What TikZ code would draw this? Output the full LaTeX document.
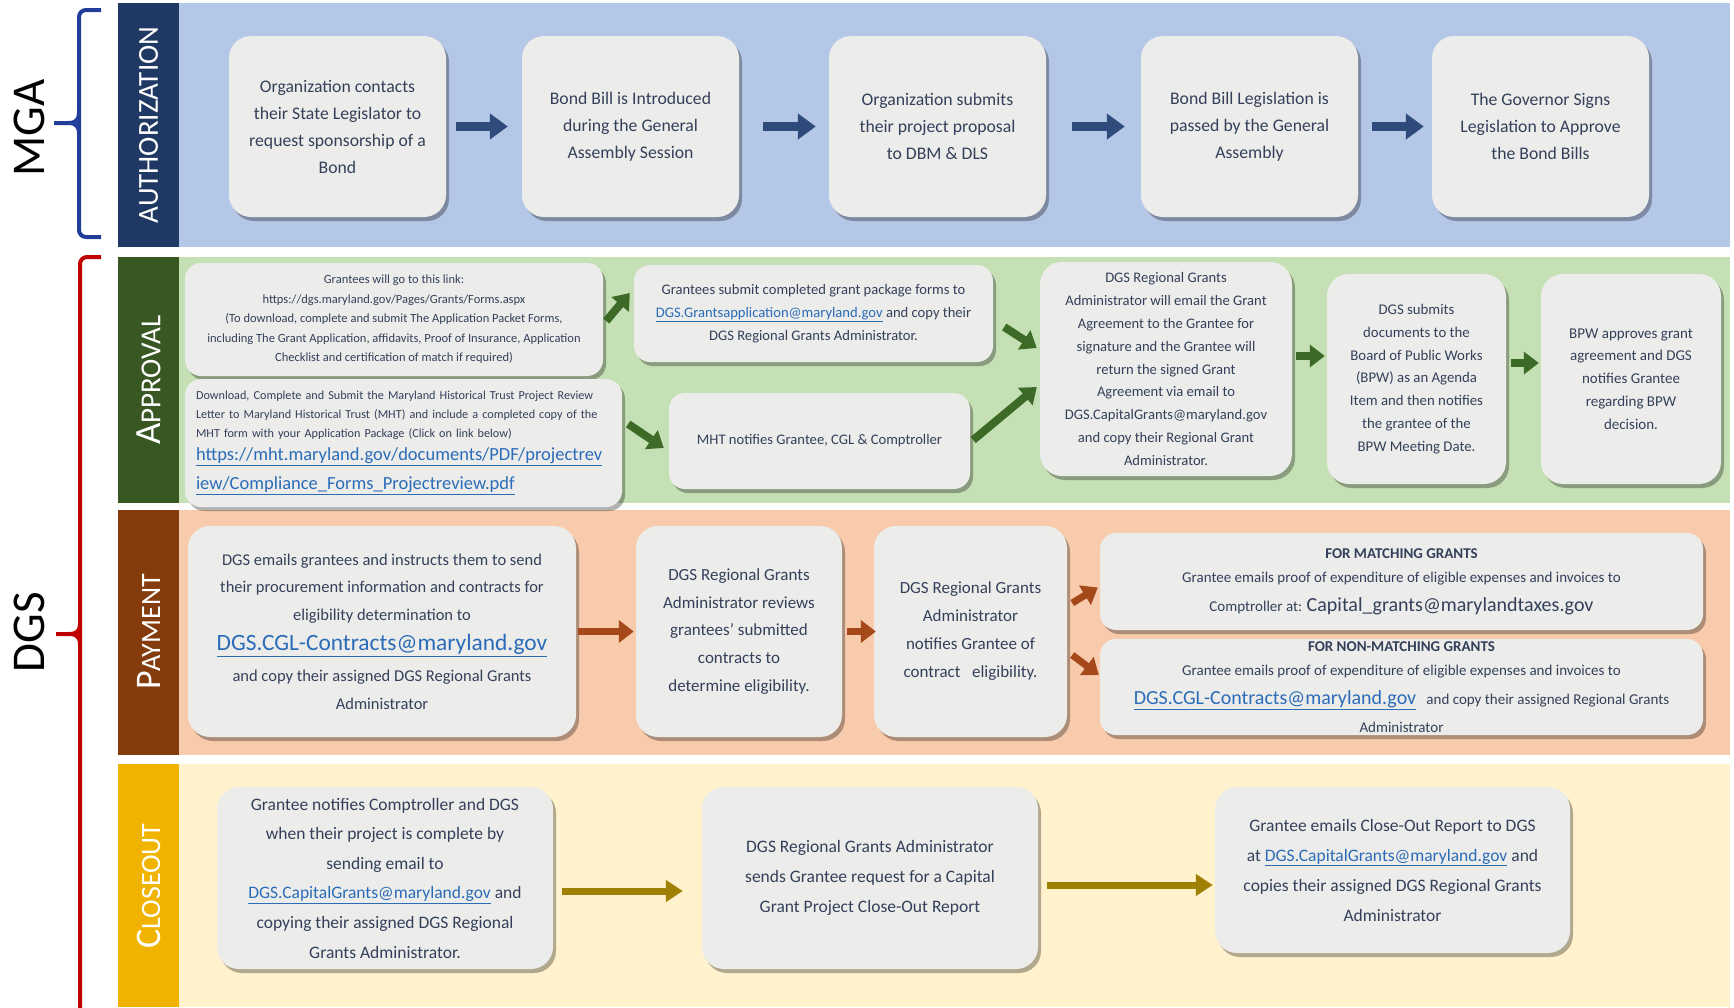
\documentclass[tikz,border=0pt]{standalone}
\usepackage{fontspec}
\setmainfont{Carlito}
\usetikzlibrary{arrows.meta,shadows,calc}
\definecolor{authD}{HTML}{203864}
\definecolor{authL}{HTML}{B4C7E7}
\definecolor{apprD}{HTML}{385723}
\definecolor{apprL}{HTML}{C5E0B4}
\definecolor{payD}{HTML}{843C0C}
\definecolor{payL}{HTML}{F8CBAD}
\definecolor{cloD}{HTML}{F0B400}
\definecolor{cloL}{HTML}{FFF2CC}
\definecolor{boxF}{HTML}{ECECEB}
\definecolor{txt}{HTML}{34405A}
\definecolor{lnk}{HTML}{2A6CB8}
\definecolor{arA}{HTML}{2F4B7C}
\definecolor{arG}{HTML}{3D6A27}
\definecolor{arP}{HTML}{A5491B}
\definecolor{arC}{HTML}{A07F05}
\definecolor{mgaC}{HTML}{1F3D99}
\definecolor{dgsC}{HTML}{C00000}
\newcommand{\lk}[1]{\textcolor{lnk}{\underline{#1}}}
\newcommand{\fs}[2]{\fontsize{#1}{#2}\selectfont}
\begin{document}
\begin{tikzpicture}[x=1pt,y=-1pt,
  box/.style={fill=boxF, rounded corners=22pt, text=txt, align=center, inner sep=4pt,
    drop shadow={shadow xshift=3pt,shadow yshift=-4pt,opacity=0.3,fill=black}},
  sbox/.style={box, rounded corners=16pt},
  band/.style={rotate=90, text=white},
  aar/.style={draw=arA, line width=9pt, -{Triangle[length=18pt,width=25pt]}},
  gar/.style={draw=arG, line width=8pt, -{Triangle[length=15pt,width=22pt]}},
  par/.style={draw=arP, line width=7pt, -{Triangle[length=15pt,width=22pt]}},
  car/.style={draw=arC, line width=7pt, -{Triangle[length=17pt,width=21pt]}},
  brace/.style={line width=4pt}
]
\useasboundingbox (0,0) rectangle (1734,1007);
% bands
\fill[authD] (118,3) rectangle (179,247);
\fill[authL] (179,3) rectangle (1730,247);
\fill[apprD] (118,257) rectangle (179,503);
\fill[apprL] (179,257) rectangle (1730,503);
\fill[payD] (118,510) rectangle (179,755);
\fill[payL] (179,510) rectangle (1730,755);
\fill[cloD] (118,764) rectangle (179,1007);
\fill[cloL] (179,764) rectangle (1730,1007);
% band labels
\node[band, font=\fs{29}{29}] (lauth) at (148.5,125) {AUTHORIZATION};
\node[band] (lappr) at (148.5,380) {{\fs{37}{37}A}{\fs{29}{29}PPROVAL}};
\node[band] (lpay) at (148.5,632) {{\fs{36}{36}P}{\fs{28}{28}AYMENT}};
\node[band] (lclo) at (148.5,886) {{\fs{36}{36}C}{\fs{28}{28}LOSEOUT}};
% braces
\draw[brace, mgaC, rounded corners=7pt] (101,10) -- (79,10) -- (79,237) -- (101,237);
\draw[brace, mgaC] (54,123) -- (68,123) .. controls (76,123) and (79,120) .. (79,112);
\draw[brace, mgaC] (68,123) .. controls (76,123) and (79,126) .. (79,134);
\node[rotate=90, font=\fs{47}{47}] (mga) at (29,128) {MGA};
\draw[brace, dgsC, rounded corners=7pt] (101,257) -- (80,257) -- (80,1012);
\draw[brace, dgsC] (56,634) -- (69,634) .. controls (77,634) and (80,631) .. (80,623);
\draw[brace, dgsC] (69,634) .. controls (77,634) and (80,637) .. (80,645);
\node[rotate=90, font=\fs{47}{47}] (dgs) at (29,632) {DGS};
% authorization
\begin{scope}[every node/.style={box, minimum width=217pt, minimum height=181pt, font=\fs{17.7}{27}}]
\node (a1) at (337.5,126.5) {Organization contacts\\their State Legislator to\\request sponsorship of a\\Bond};
\node (a2) at (630.5,126.5) {Bond Bill is Introduced\\during the General\\Assembly Session};
\node (a3) at (937.5,126.5) {Organization submits\\their project proposal\\to DBM \& DLS};
\node (a4) at (1249.5,126.5) {Bond Bill Legislation is\\passed by the General\\Assembly};
\node (a5) at (1540.5,126.5) {The Governor Signs\\Legislation to Approve\\the Bond Bills};
\end{scope}
\draw[aar] ($(a1.east)+(10,0)$) -- ($(a2.west)+(-14,0)$);
\draw[aar] ($(a2.east)+(24,0)$) -- ($(a3.west)+(-13,0)$);
\draw[aar] ($(a3.east)+(26,0)$) -- ($(a4.west)+(-16,0)$);
\draw[aar] ($(a4.east)+(14,0)$) -- ($(a5.west)+(-8,0)$);
% approval
\node[sbox, minimum width=418pt, minimum height=113pt, font=\fs{12.5}{19.5}] (pa1) at (394,319.5)
 {Grantees will go to this link:\\https://dgs.maryland.gov/Pages/Grants/Forms.aspx\\(To download, complete and submit The Application Packet Forms,\\including The Grant Application, affidavits, Proof of Insurance, Application\\Checklist and certification of match if required)};
\node[sbox, text width=415pt, inner xsep=11pt, minimum height=128pt, align=left, font=\fs{12.2}{19}] (pa2) at (403.5,443)
 {Download, Complete and Submit the Maryland Historical Trust Project Review\\Letter to Maryland Historical Trust (MHT) and include a completed copy of the\\MHT form with your Application Package (Click on link below)\\[4pt]
 {\fs{18.5}{19}\lk{https://mht.maryland.gov/documents/PDF/projectrev}}\\[10pt]
 {\fs{18.5}{19}\lk{iew/Compliance\_Forms\_Projectreview.pdf}}};
\node[sbox, minimum width=359pt, minimum height=97pt, font=\fs{14.6}{23}] (pa3) at (813.5,313.5)
 {Grantees submit completed grant package forms to\\\lk{DGS.Grantsapplication@maryland.gov} and copy their\\DGS Regional Grants Administrator.};
\node[sbox, minimum width=301pt, minimum height=96pt, font=\fs{14.6}{23}] (pa4) at (819.5,441)
 {MHT notifies Grantee, CGL \& Comptroller};
\node[box, minimum width=252pt, minimum height=214pt, font=\fs{14.6}{22.8}] (pa5) at (1166,369)
 {DGS Regional Grants\\Administrator will email the Grant\\Agreement to the Grantee for\\signature and the Grantee will\\return the signed Grant\\Agreement via email to\\DGS.CapitalGrants@maryland.gov\\and copy their Regional Grant\\Administrator.};
\node[box, minimum width=179pt, minimum height=210pt, font=\fs{14.8}{22.8}] (pa6) at (1416.5,379)
 {DGS submits\\documents to the\\Board of Public Works\\(BPW) as an Agenda\\Item and then notifies\\the grantee of the\\BPW Meeting Date.};
\node[box, minimum width=180pt, minimum height=210pt, font=\fs{15}{22.8}] (pa7) at (1631,379)
 {BPW approves grant\\agreement and DGS\\notifies Grantee\\regarding BPW\\decision.};
\draw[gar] ($(pa1.east)+(3,1.5)$) -- ($(pa3.west)+(-4,-20.5)$);
\draw[gar] ($(pa3.east)+(11,13.5)$) -- ($(pa5.west)+(-3,-21)$);
\draw[gar] ($(pa2.east)+(6,-19)$) -- ($(pa4.west)+(-5,7)$);
\draw[gar] ($(pa4.east)+(3,-1)$) -- ($(pa5.west)+(-3,18)$);
\draw[gar] ($(pa5.east)+(4,-13)$) -- ($(pa6.west)+(-2,-23)$);
\draw[gar] ($(pa6.east)+(5,-16)$) -- ($(pa7.west)+(-2,-16)$);
% payment
\node[box, minimum width=388pt, minimum height=211pt, font=\fs{16.5}{27.6}] (p1) at (382,631.5)
 {DGS emails grantees and instructs them to send\\their procurement information and contracts for\\eligibility determination to\\[3pt]
 {\fs{23.4}{27.6}\lk{DGS.CGL-Contracts@maryland.gov}}\\[3pt]
 and copy their assigned DGS Regional Grants\\Administrator};
\node[box, minimum width=206pt, minimum height=211pt, font=\fs{17}{27.6}] (p2) at (739,631.5)
 {DGS Regional Grants\\Administrator reviews\\grantees’ submitted\\contracts to\\determine eligibility.};
\node[box, minimum width=193pt, minimum height=211pt, font=\fs{17}{28}] (p3) at (970.5,631.5)
 {DGS Regional Grants\\Administrator\\notifies Grantee of\\contract~~ eligibility.};
\node[sbox, minimum width=603pt, minimum height=97pt, font=\fs{15}{24}] (p4) at (1401.5,581.5)
 {\textbf{FOR MATCHING GRANTS}\\Grantee emails proof of expenditure of eligible expenses and invoices to\\[5pt]
 Comptroller at: {\fs{20}{24}Capital\_grants@marylandtaxes.gov}};
\node[sbox, minimum width=603pt, minimum height=96pt, font=\fs{15}{24}, inner ysep=1pt] (p5) at (1401.5,687)
 {\textbf{FOR NON-MATCHING GRANTS}\\Grantee emails proof of expenditure of eligible expenses and invoices to\\[5pt]
 {\fs{20}{24}\lk{DGS.CGL-Contracts@maryland.gov}}~~ and copy their assigned Regional Grants\\[4pt]
 Administrator};
\draw[par] ($(p1.east)+(2,0)$) -- ($(p2.west)+(-2,0)$);
\draw[par] ($(p2.east)+(5,0)$) -- ($(p3.west)+(2,0)$);
\draw[par] ($(p3.east)+(5,-28.5)$) -- ($(p4.west)+(-2,6)$);
\draw[par] ($(p3.east)+(5,23.5)$) -- ($(p5.west)+(-1,-12)$);
% closeout
\node[box, minimum width=336pt, minimum height=182pt, font=\fs{17.5}{29.6}] (c1) at (385,878)
 {Grantee notifies Comptroller and DGS\\when their project is complete by\\sending email to\\\lk{DGS.CapitalGrants@maryland.gov} and\\copying their assigned DGS Regional\\Grants Administrator.};
\node[box, minimum width=336pt, minimum height=182pt, font=\fs{17.5}{30.4}] (c2) at (870,878)
 {DGS Regional Grants Administrator\\sends Grantee request for a Capital\\Grant Project Close-Out Report};
\node[box, minimum width=355pt, minimum height=166pt, font=\fs{17.5}{30}] (c3) at (1392.5,870)
 {Grantee emails Close-Out Report to DGS\\at \lk{DGS.CapitalGrants@maryland.gov} and\\copies their assigned DGS Regional Grants\\Administrator};
\draw[car] ($(c1.east)+(9,13)$) -- ($(c2.west)+(-19,13)$);
\draw[car] ($(c2.east)+(9,7)$) -- ($(c3.west)+(-2,15)$);
\end{tikzpicture}
\end{document}
